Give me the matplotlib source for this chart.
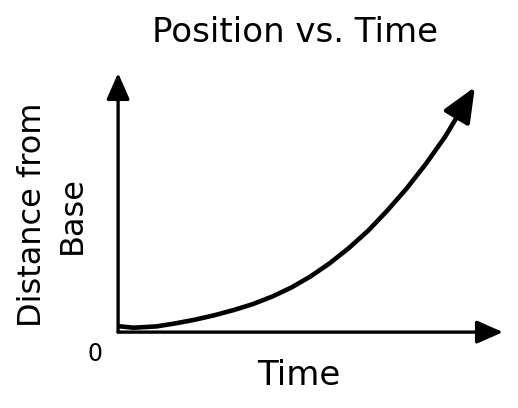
import matplotlib
matplotlib.use("Agg")
import matplotlib.pyplot as plt

# curve (arbitrary units, both axes run 0..10)
time = [0.0, 0.4, 1.0, 1.5, 2.0, 2.5, 3.0, 3.5, 4.0, 4.5, 5.0, 5.5,
        6.0, 6.5, 7.0, 7.5, 8.0, 8.5]
distance = [0.23, 0.17, 0.22, 0.34, 0.48, 0.65, 0.85, 1.08, 1.37, 1.72,
            2.15, 2.66, 3.25, 3.92, 4.70, 5.55, 6.50, 7.55]
tip = (9.27, 9.46)

title = "Position vs. Time"
xlabel = "Time"
ylabel = "Distance from\nBase"
origin_label = "0"

fig = plt.figure(figsize=(5.18, 4.08), dpi=100)
ax = fig.add_axes([0.228, 0.186, 0.743, 0.635])
ax.set_xlim(0, 10)
ax.set_ylim(0, 10)
ax.axis("off")

# axes drawn as arrows
axis_arrow = dict(arrowstyle="-|>,head_length=0.5,head_width=0.22",
                  color="black", lw=2.4, mutation_scale=32,
                  shrinkA=0, shrinkB=0)
ax.annotate("", xy=(1, 0), xytext=(0, 0), xycoords="axes fraction",
            arrowprops=axis_arrow)
ax.annotate("", xy=(0, 1), xytext=(0, 0), xycoords="axes fraction",
            arrowprops=axis_arrow)

# the curve, ending in an arrow
ax.plot(time, distance, color="black", lw=3.3, solid_capstyle="butt",
        solid_joinstyle="round")
ax.annotate("", xy=tip, xytext=(time[-1], distance[-1]),
            arrowprops=dict(arrowstyle="-|>,head_length=0.7,head_width=0.3",
                            color="black", lw=3.3, mutation_scale=30,
                            shrinkA=0, shrinkB=0))

fig.text(0.570, 0.898, title, fontsize=24.5, ha="center", va="baseline")
fig.text(0.576, 0.0564, xlabel, fontsize=24.5, ha="center", va="baseline")
fig.text(0.101, 0.474, ylabel, fontsize=23, ha="center", va="center",
         rotation=90, multialignment="center", linespacing=1.35)
fig.text(0.183, 0.132, origin_label, fontsize=17, ha="center", va="center")

fig.savefig("out.png", dpi=100)
